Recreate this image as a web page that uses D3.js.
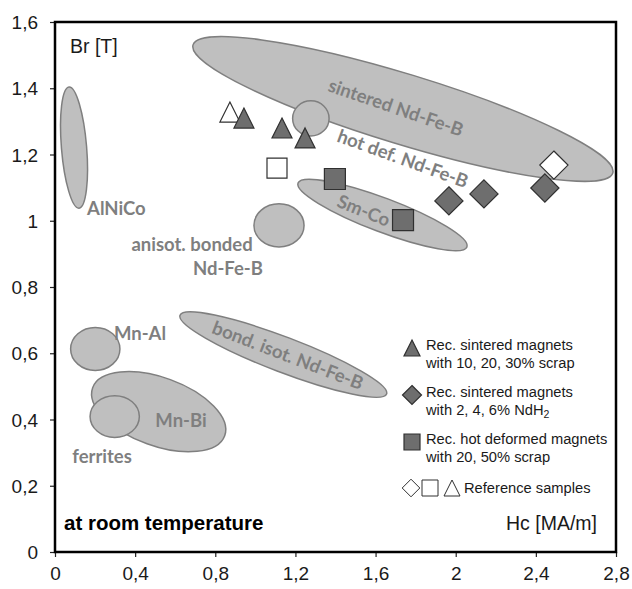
<!DOCTYPE html>
<html lang="en">
<head>
    <meta charset="UTF-8">
    <title>Br vs Hc of permanent magnets</title>
    <script src="https://d3js.org/d3.v7.min.js"></script>
    <style>
        body{
            margin:0;
            background-color:white;
        }
        svg{
            display:block;
            font-family:Arial, "Liberation Sans", sans-serif;
        }
    </style>
</head>
<body>
    <script>
        // axis ticks
        const xTicks = [0, 0.4, 0.8, 1.2, 1.6, 2, 2.4, 2.8];
        const yTicks = [0, 0.2, 0.4, 0.6, 0.8, 1, 1.2, 1.4, 1.6];

        // magnet families drawn as ellipses: two ends of long axis (Hc, Br) and half width in Br
        const regionNames = ["sintered", "hotdef", "smco", "anisot", "alnico", "mnal", "mnbi", "ferrites", "bondisot"];
        const regionTipA = [[0.689, 1.531], [1.186, 1.309], [1.213, 1.114], [0.993, 0.986], [0.070, 1.404], [0.078, 0.613], [0.188, 0.496], [0.175, 0.409], [0.624, 0.715]];
        const regionTipB = [[2.784, 1.144], [1.368, 1.309], [2.056, 0.921], [1.243, 0.986], [0.120, 1.038], [0.324, 0.613], [0.847, 0.351], [0.421, 0.409], [1.655, 0.477]];
        const regionHalfWidth = [0.106, 0.053, 0.051, 0.065, 0.038, 0.065, 0.103, 0.063, 0.053];

        // region labels
        const labelTexts = ["sintered Nd-Fe-B", "hot def. Nd-Fe-B", "Sm-Co", "AlNiCo", "anisot. bonded", "Nd-Fe-B", "Mn-Al", "Mn-Bi", "ferrites", "bond. isot. Nd-Fe-B"];
        const labelHc = [1.702, 1.737, 1.542, 0.160, 0.684, 0.863, 0.424, 0.629, 0.235, 1.163];
        const labelBr = [1.343, 1.189, 1.032, 1.038, 0.930, 0.857, 0.661, 0.398, 0.290, 0.595];
        const labelAngle = [19, 20, 22, 0, 0, 0, 0, 0, 0, 21];

        // measured samples
        const recSinteredHc = [0.943, 1.133, 1.248];
        const recSinteredBr = [1.310, 1.280, 1.250];
        const recNdH2Hc = [1.966, 2.141, 2.445];
        const recNdH2Br = [1.060, 1.081, 1.099];
        const recHotDefHc = [1.397, 1.737];
        const recHotDefBr = [1.126, 1.002];
        const refHc = [0.873, 1.108, 2.490];
        const refBr = [1.328, 1.159, 1.168];
        const refShape = ["triangle", "square", "diamond"];

        const w = 632;
        const h = 589;
        const margin = {left:55, right:16, top:22, bottom:37};

        const svg = d3.select("body").append("svg").attr("width", w).attr("height", h);

        const x = d3.scaleLinear().domain([0, 2.8]).range([margin.left, w - margin.right]);
        const y = d3.scaleLinear().domain([0, 1.6]).range([h - margin.bottom, margin.top]);
        const pxPerBr = y(0) - y(1);

        const fmt = function(d){ return String(d).replace(".", ","); };

        // ellipses
        const ellipses = regionNames.map(function(n, i){
            const x1 = x(regionTipA[i][0]), y1 = y(regionTipA[i][1]);
            const x2 = x(regionTipB[i][0]), y2 = y(regionTipB[i][1]);
            return {
                name: n,
                cx: (x1 + x2) / 2,
                cy: (y1 + y2) / 2,
                rx: Math.hypot(x2 - x1, y2 - y1) / 2,
                ry: regionHalfWidth[i] * pxPerBr,
                angle: Math.atan2(y2 - y1, x2 - x1) * 180 / Math.PI
            };
        });

        svg.append("g").selectAll("ellipse")
            .data(ellipses)
            .enter()
            .append("ellipse")
            .attr("transform", function(d){ return "translate(" + d.cx + "," + d.cy + ") rotate(" + d.angle + ")"; })
            .attr("rx", function(d){ return d.rx; })
            .attr("ry", function(d){ return d.ry; })
            .attr("fill", "#bfbfbf")
            .attr("stroke", "#7f7f7f")
            .attr("stroke-width", 1.5);

        svg.append("g").selectAll("text")
            .data(labelTexts)
            .enter()
            .append("text")
            .attr("transform", function(d, i){ return "translate(" + x(labelHc[i]) + "," + y(labelBr[i]) + ") rotate(" + labelAngle[i] + ")"; })
            .attr("text-anchor", function(d){ return d === "AlNiCo" ? "start" : "middle"; })
            .attr("dominant-baseline", "central")
            .attr("font-family", "Lato, 'Open Sans', sans-serif")
            .attr("font-weight", "bold")
            .attr("font-size", 18.5)
            .attr("fill", "#7f7f7f")
            .text(function(d){ return d; });

        // marker shapes
        const shapePath = function(shape, s){
            const r = s / 2;
            if (shape === "triangle") return "M0," + (-r) + "L" + r + "," + r + "L" + (-r) + "," + r + "Z";
            if (shape === "square") return "M" + (-r) + "," + (-r) + "h" + s + "v" + s + "h" + (-s) + "Z";
            const q = r * 1.41;
            return "M0," + (-q) + "L" + q + ",0L0," + q + "L" + (-q) + ",0Z";
        };

        const drawSeries = function(hc, br, shape, fill, size){
            svg.append("g").selectAll("path")
                .data(hc)
                .enter()
                .append("path")
                .attr("transform", function(d, i){ return "translate(" + x(d) + "," + y(br[i]) + ")"; })
                .attr("d", function(d, i){ return shapePath(Array.isArray(shape) ? shape[i] : shape, size); })
                .attr("fill", fill)
                .attr("stroke", "#303030")
                .attr("stroke-width", 1.2);
        };

        drawSeries(refHc, refBr, refShape, "white", 20);
        drawSeries(recSinteredHc, recSinteredBr, "triangle", "#6e6e6e", 20);
        drawSeries(recNdH2Hc, recNdH2Br, "diamond", "#6e6e6e", 20);
        drawSeries(recHotDefHc, recHotDefBr, "square", "#6e6e6e", 21);

        // axes
        const xAxis = d3.axisBottom(x).tickValues(xTicks).tickFormat(fmt).tickSizeInner(5).tickSizeOuter(0).tickPadding(10);
        const yAxis = d3.axisLeft(y).tickValues(yTicks).tickFormat(fmt).tickSizeInner(5).tickSizeOuter(0).tickPadding(12);

        const gx = svg.append("g").attr("transform", "translate(0," + y(0) + ")").call(xAxis);
        const gy = svg.append("g").attr("transform", "translate(" + x(0) + ",0)").call(yAxis);
        [gx, gy].forEach(function(g){
            g.select(".domain").remove();
            g.selectAll("line").attr("stroke", "#222").attr("stroke-width", 1.2);
            g.selectAll("text").attr("font-size", 19).attr("font-family", "Arial, 'Liberation Sans', sans-serif").attr("fill", "#1a1a1a");
        });
        gy.selectAll("text").attr("dy", "0.35em");

        // frame
        svg.append("rect")
            .attr("x", x(0)).attr("y", y(1.6))
            .attr("width", x(2.8) - x(0)).attr("height", y(0) - y(1.6))
            .attr("fill", "none").attr("stroke", "black").attr("stroke-width", 2.5);

        // axis titles and note
        svg.append("text").attr("x", x(0) + 15).attr("y", y(1.6) + 31)
            .attr("font-size", 19.5).attr("fill", "#1a1a1a").text("Br [T]");
        svg.append("text").attr("x", x(2.8) - 19).attr("y", y(0) - 22)
            .attr("text-anchor", "end").attr("font-size", 19.5).attr("fill", "#1a1a1a").text("Hc [MA/m]");
        svg.append("text").attr("x", x(0) + 9).attr("y", y(0) - 22)
            .attr("font-size", 20.5).attr("font-weight", "bold").attr("fill", "black").text("at room temperature");

        // legend
        const legend = svg.append("g").attr("font-size", 14.7).attr("fill", "#1a1a1a");
        const legendRows = [
            {shape:"triangle", y:354, lines:["Rec. sintered magnets", "with 10, 20, 30% scrap"]},
            {shape:"diamond", y:401, lines:["Rec. sintered magnets", "with 2, 4, 6% NdH"]},
            {shape:"square", y:448, lines:["Rec. hot deformed magnets", "with 20, 50% scrap"]}
        ];
        legendRows.forEach(function(r){
            legend.append("path")
                .attr("transform", "translate(412," + (r.y - 6) + ")")
                .attr("d", shapePath(r.shape, r.shape === "diamond" ? 13.5 : 16))
                .attr("fill", "#6e6e6e").attr("stroke", "#303030").attr("stroke-width", 1.2);
            const t = legend.append("text").attr("x", 426).attr("y", r.y - 9).attr("dominant-baseline", "central");
            t.append("tspan").attr("x", 426).text(r.lines[0]);
            const t2 = legend.append("text").attr("x", 426).attr("y", r.y + 9).attr("dominant-baseline", "central");
            t2.append("tspan").text(r.lines[1]);
            if (r.shape === "diamond") {
                t2.append("tspan").attr("font-size", 10.5).attr("dy", 4).text("2");
            }
        });
        ["diamond", "square", "triangle"].forEach(function(s, i){
            legend.append("path")
                .attr("transform", "translate(" + [411, 430, 452][i] + ",488)")
                .attr("d", shapePath(s, s === "diamond" ? 12.5 : 16))
                .attr("fill", "white").attr("stroke", "#303030").attr("stroke-width", 1);
        });
        legend.append("text").attr("x", 464).attr("y", 488).attr("dominant-baseline", "central").text("Reference samples");
    </script>
</body>
</html>
